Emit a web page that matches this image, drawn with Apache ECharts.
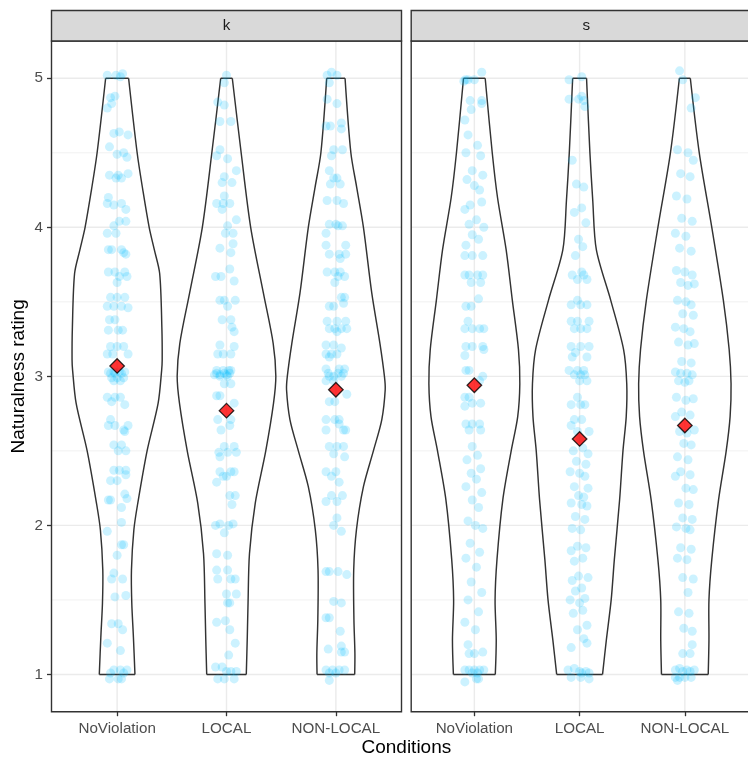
<!DOCTYPE html>
<html><head><meta charset="utf-8">
<script src="https://cdn.jsdelivr.net/npm/echarts@6/dist/echarts.min.js"></script>
<style>html,body{margin:0;padding:0;background:#fff}#c{width:748px;height:758px}</style>
</head><body><div id="c"></div>
<script>
const categories = ['NoViolation', 'LOCAL', 'NON-LOCAL'];
const facets = ['k', 's'];
const yTicks = [1, 2, 3, 4, 5];
const yMinor = [1.5, 2.5, 3.5, 4.5];
const meansK = [3.07, 2.77, 2.91];
const meansS = [2.94, 2.58, 2.67];

// violin outlines: [rating, half-width in category units]
const violinK_NoViolation = [[1.0,0.163],[1.25,0.149],[1.48,0.134],[1.7,0.131],[1.97,0.153],[2.15,0.189],[2.5,0.274],[2.82,0.375],[3.04,0.407],[3.11,0.412],[3.33,0.409],[3.69,0.389],[3.85,0.34],[4.0,0.293],[4.25,0.235],[4.5,0.183],[5.0,0.105]];
const violinK_LOCAL = [[1.0,0.181],[1.25,0.19],[1.48,0.197],[1.81,0.21],[2.15,0.263],[2.5,0.359],[2.82,0.43],[3.0,0.451],[3.22,0.427],[3.56,0.337],[4.0,0.221],[4.5,0.134],[5.0,0.053]];
const violinK_NONLOCAL = [[1.0,0.172],[1.14,0.174],[1.37,0.165],[1.7,0.163],[1.97,0.188],[2.26,0.252],[2.5,0.343],[2.71,0.42],[2.91,0.451],[3.0,0.444],[3.22,0.403],[3.56,0.328],[4.0,0.252],[4.27,0.19],[4.5,0.137],[5.0,0.084]];
const violinS_NoViolation = [[1.0,0.199],[1.23,0.208],[1.5,0.197],[1.77,0.215],[2.17,0.27],[2.5,0.35],[2.73,0.412],[2.95,0.432],[3.18,0.419],[3.51,0.361],[3.85,0.302],[4.2,0.22],[4.5,0.17],[5.0,0.103]];
const violinS_LOCAL = [[1.0,0.218],[1.23,0.254],[1.5,0.30],[1.77,0.33],[2.17,0.38],[2.5,0.412],[2.73,0.443],[2.95,0.448],[3.18,0.418],[3.51,0.296],[3.85,0.159],[4.18,0.125],[4.5,0.098],[5.0,0.066]];
const violinS_NONLOCAL = [[1.0,0.222],[1.23,0.229],[1.5,0.229],[1.77,0.256],[2.17,0.32],[2.5,0.393],[2.73,0.43],[2.95,0.439],[3.18,0.421],[3.51,0.366],[4.0,0.256],[4.5,0.137],[5.0,0.052]];

// jittered points: [horizontal jitter in category units, rating]
const pointsK_NoViolation = [[-0.09,5.02],[-0.01,5.02],[0.03,5.01],[0.05,5.03],[-0.06,4.87],[-0.02,4.88],[-0.05,4.83],[-0.09,4.80],
[-0.03,4.63],[0.02,4.64],[0.10,4.62],[-0.07,4.54],[0.00,4.49],[0.06,4.50],[0.09,4.47],
[-0.07,4.35],[0.01,4.35],[0.10,4.36],[-0.01,4.33],[0.04,4.33],[-0.08,4.20],[-0.09,4.16],[-0.03,4.15],[0.04,4.16],[0.08,4.12],
[0.02,4.04],[0.08,4.04],[-0.03,4.01],[-0.09,3.96],[-0.01,3.96],[-0.08,3.85],[-0.05,3.85],[0.04,3.85],[0.08,3.82],[0.06,3.83],
[-0.08,3.70],[-0.02,3.70],[0.07,3.70],[0.02,3.67],[0.09,3.67],[0.00,3.63],[-0.06,3.53],[0.00,3.53],[0.07,3.53],[-0.09,3.47],[-0.03,3.47],[0.04,3.47],[0.10,3.46],
[-0.07,3.38],[-0.02,3.38],[-0.08,3.31],[0.01,3.31],[0.05,3.31],[-0.06,3.20],[0.00,3.20],[0.06,3.20],[-0.09,3.15],[-0.04,3.15],[0.10,3.15],
[-0.08,3.03],[-0.03,3.03],[0.02,3.03],[0.07,3.03],[-0.05,2.99],[0.00,2.99],[0.06,2.99],[-0.06,3.02],[-0.02,3.02],[0.04,3.02],[-0.03,2.97],[0.03,2.97],
[-0.09,2.86],[-0.02,2.86],[0.03,2.86],[-0.05,2.83],[0.07,2.81],[-0.06,2.71],[-0.08,2.67],[-0.02,2.67],[0.10,2.67],[0.06,2.64],[0.07,2.63],
[-0.03,2.54],[0.04,2.54],[0.01,2.50],[0.08,2.50],[-0.03,2.37],[0.02,2.37],[0.08,2.37],[0.08,2.34],[-0.06,2.30],[0.00,2.30],
[-0.08,2.17],[-0.06,2.17],[0.07,2.21],[0.09,2.18],[0.04,2.12],[0.04,2.02],[-0.09,1.96],[0.04,1.87],[0.06,1.87],[0.00,1.80],
[-0.03,1.68],[-0.05,1.64],[0.05,1.64],[0.08,1.53],[-0.02,1.52],[-0.05,1.34],[0.01,1.34],[0.05,1.30],[-0.09,1.21],[0.03,1.16],
[-0.03,1.03],[0.03,1.03],[0.09,1.03],[-0.06,1.01],[0.06,1.01],[-0.07,0.97],[0.01,0.97],[0.04,0.97]];
const pointsK_LOCAL = [[0.00,5.02],[-0.02,4.97],[-0.08,4.84],[-0.02,4.82],[-0.06,4.71],[0.04,4.71],
[-0.06,4.52],[-0.09,4.48],[0.01,4.46],[0.09,4.38],[-0.02,4.34],[-0.04,4.30],[0.05,4.30],
[-0.02,4.21],[-0.09,4.16],[-0.03,4.16],[0.03,4.16],[-0.04,4.12],[0.09,4.05],[0.01,4.01],[-0.01,3.96],[0.06,3.96],[-0.06,3.86],[0.06,3.89],[0.04,3.83],
[0.03,3.72],[-0.10,3.67],[-0.05,3.67],[0.07,3.64],[-0.06,3.51],[-0.02,3.51],[0.08,3.51],[0.01,3.47],[-0.04,3.38],[0.04,3.38],[0.05,3.33],[0.07,3.30],
[-0.06,3.21],[0.07,3.20],[-0.08,3.15],[-0.03,3.15],[0.04,3.15],[-0.09,3.04],[-0.03,3.04],[0.02,3.04],[0.04,3.04],[-0.11,3.01],[-0.06,3.01],[0.00,3.01],
[-0.09,3.02],[-0.02,3.02],[0.03,3.02],[-0.06,3.00],[0.01,3.00],[-0.02,2.95],[0.04,2.95],[-0.09,2.87],[-0.06,2.87],[0.07,2.82],
[-0.08,2.71],[0.04,2.71],[0.03,2.67],[-0.05,2.64],[-0.02,2.53],[0.07,2.53],[-0.07,2.49],[0.01,2.49],[0.09,2.49],[-0.06,2.46],
[-0.06,2.36],[0.04,2.36],[0.07,2.36],[-0.03,2.33],[0.00,2.33],[-0.09,2.29],[0.03,2.20],[0.08,2.20],[0.05,2.14],
[-0.06,2.01],[0.06,2.01],[-0.10,2.00],[0.02,2.00],[-0.02,1.95],[-0.09,1.81],[0.01,1.80],[-0.09,1.70],[0.01,1.70],[-0.08,1.64],[0.04,1.64],[0.08,1.64],
[0.00,1.54],[0.09,1.54],[0.01,1.48],[0.03,1.48],[-0.01,1.36],[-0.09,1.35],[0.03,1.30],[0.08,1.21],[0.02,1.13],
[-0.10,1.05],[-0.04,1.05],[0.00,1.02],[0.04,1.02],[0.09,1.02],[-0.08,0.97],[-0.02,0.97],[0.07,0.97]];
const pointsK_NONLOCAL = [[-0.04,5.04],[-0.08,5.02],[0.01,5.02],[-0.06,4.97],[-0.08,4.86],[0.01,4.83],
[0.05,4.70],[-0.09,4.68],[-0.05,4.68],[0.05,4.66],[-0.02,4.52],[0.06,4.52],[-0.04,4.48],[-0.06,4.38],[-0.02,4.33],[0.01,4.33],[-0.05,4.29],[0.04,4.29],
[-0.08,4.18],[0.01,4.18],[0.07,4.16],[-0.06,4.02],[0.00,4.02],[0.02,4.01],[0.06,4.01],[-0.09,3.96],
[-0.09,3.88],[0.09,3.88],[-0.06,3.82],[0.03,3.82],[0.09,3.82],[0.04,3.79],[-0.08,3.70],[-0.01,3.70],[0.04,3.70],[0.02,3.67],[0.08,3.67],[-0.01,3.63],
[0.05,3.53],[0.08,3.53],[-0.06,3.47],[-0.02,3.47],[0.07,3.49],[-0.08,3.37],[0.01,3.37],[0.09,3.37],[-0.06,3.32],[-0.01,3.32],[0.05,3.32],[0.10,3.32],[0.01,3.30],
[-0.09,3.21],[-0.02,3.21],[0.05,3.19],[-0.09,3.15],[-0.04,3.15],[0.01,3.15],[-0.06,3.13],[-0.09,3.05],[0.03,3.05],[0.08,3.05],[-0.06,3.00],[-0.02,3.00],[0.05,3.00],
[-0.07,3.02],[0.02,3.02],[0.07,3.02],[-0.09,2.97],[-0.02,2.97],[0.10,2.88],[-0.06,2.83],[-0.01,2.83],
[-0.09,2.71],[-0.01,2.71],[0.03,2.71],[0.03,2.68],[-0.09,2.64],[0.07,2.64],[0.09,2.64],[-0.06,2.53],[0.01,2.53],[0.07,2.53],[-0.02,2.48],[0.08,2.46],
[-0.09,2.36],[0.00,2.36],[-0.04,2.33],[0.03,2.29],[-0.04,2.20],[0.06,2.20],[-0.09,2.16],[0.01,2.16],[0.01,2.05],[-0.02,2.00],[0.05,1.96],
[-0.09,1.69],[-0.06,1.69],[0.02,1.69],[0.10,1.67],[-0.02,1.49],[0.05,1.48],[-0.09,1.38],[-0.06,1.38],[0.04,1.29],[-0.07,1.17],[0.05,1.19],[0.05,1.15],[0.08,1.15],
[-0.09,1.03],[-0.03,1.03],[0.03,1.03],[0.08,1.03],[-0.06,1.01],[0.00,1.01],[-0.06,0.96]];
const pointsS_NoViolation = [[0.07,5.04],[-0.085,4.99],[-0.06,4.99],[0.00,4.99],[-0.10,4.98],[-0.04,4.85],[0.07,4.85],[0.07,4.83],[-0.03,4.79],[-0.09,4.72],
[-0.06,4.62],[0.03,4.55],[-0.08,4.50],[0.06,4.48],[-0.02,4.38],[0.08,4.35],[-0.07,4.32],[0.00,4.28],[0.05,4.25],[-0.04,4.15],[0.07,4.17],[-0.09,4.12],[0.02,4.05],[-0.05,4.02],[0.09,4.00],[-0.02,3.95],[0.04,3.92],[-0.08,3.88],
[-0.09,3.81],[-0.02,3.81],[0.08,3.81],[-0.09,3.68],[-0.05,3.68],[0.03,3.68],[0.08,3.68],[-0.03,3.63],[0.06,3.63],
[0.04,3.52],[-0.08,3.47],[-0.03,3.47],[-0.06,3.37],[-0.09,3.32],[-0.02,3.32],[0.05,3.32],[0.09,3.32],
[-0.08,3.20],[-0.02,3.20],[0.08,3.20],[0.09,3.18],[-0.09,3.14],[-0.08,3.04],[-0.05,3.04],[0.08,3.00],[0.05,2.97],
[-0.09,2.86],[-0.05,2.86],[-0.02,2.82],[0.06,2.82],[-0.09,2.80],[-0.08,2.68],[-0.02,2.68],[0.05,2.68],[-0.05,2.64],[0.06,2.64],[-0.02,2.53],
[0.03,2.47],[-0.07,2.44],[0.06,2.38],[-0.03,2.35],[0.02,2.31],[-0.08,2.26],[0.07,2.22],[-0.02,2.17],[0.04,2.12],[-0.06,2.03],[0.01,2.00],[0.08,1.98],
[-0.04,1.88],[0.05,1.82],[-0.08,1.78],[0.02,1.72],[-0.03,1.62],[0.07,1.55],[-0.06,1.50],[0.04,1.42],[-0.09,1.35],[0.01,1.30],[-0.06,1.20],[-0.05,1.14],[0.00,1.14],[0.08,1.15],
[-0.09,1.03],[-0.05,1.03],[0.00,1.03],[0.05,1.03],[0.09,1.03],[-0.02,1.01],[0.03,1.01],[0.02,0.97],[0.04,0.97],[-0.09,0.95]];
const pointsS_LOCAL = [[-0.10,4.99],[0.02,5.01],[-0.10,4.86],[-0.01,4.86],[0.04,4.85],[0.02,4.88],[0.05,4.81],[-0.07,4.45],[-0.03,4.29],[0.04,4.27],[0.02,4.13],[-0.05,4.10],[0.06,4.03],[-0.01,3.92],[0.03,3.87],
[-0.04,3.81],[0.02,3.70],[-0.07,3.68],[0.04,3.68],[-0.02,3.65],[0.07,3.65],[-0.02,3.51],[-0.08,3.48],[0.01,3.48],[0.07,3.48],
[-0.08,3.37],[-0.02,3.37],[0.09,3.37],[-0.05,3.32],[0.01,3.32],[0.07,3.32],[-0.08,3.20],[0.01,3.20],[0.09,3.20],[-0.04,3.16],[-0.07,3.13],[0.07,3.13],
[-0.10,3.04],[-0.02,3.04],[0.04,3.04],[-0.05,3.01],[0.01,3.01],[0.05,3.01],[0.00,2.97],[0.07,2.97],
[-0.02,2.86],[-0.08,2.81],[0.01,2.81],[0.05,2.81],[-0.05,2.71],[0.02,2.71],[-0.08,2.67],[-0.02,2.63],[0.09,2.63],[0.01,2.58],
[-0.06,2.50],[0.03,2.52],[0.08,2.48],[-0.03,2.43],[0.06,2.41],[-0.09,2.36],[0.00,2.35],[0.05,2.33],[-0.05,2.26],[0.08,2.25],[-0.01,2.20],[0.04,2.19],[-0.08,2.15],[0.02,2.14],[0.07,2.13],
[-0.04,2.06],[0.05,2.04],[-0.07,1.98],[0.01,1.97],[-0.02,1.86],[0.06,1.85],[-0.08,1.83],[0.03,1.78],[-0.05,1.76],[-0.01,1.66],[0.08,1.65],[-0.07,1.63],[0.02,1.58],[-0.04,1.56],
[0.05,1.51],[-0.09,1.50],[0.00,1.48],[0.03,1.43],[-0.06,1.41],[0.07,1.33],[-0.02,1.30],[0.04,1.24],[-0.08,1.18],[0.07,1.21],
[-0.11,1.03],[-0.05,1.04],[0.00,1.02],[0.02,1.01],[0.06,1.02],[0.09,1.01],[-0.08,0.98],[0.01,0.98],[0.09,0.97]];
const pointsS_NONLOCAL = [[-0.05,5.05],[-0.02,4.99],[0.10,4.87],[0.06,4.80],[-0.07,4.52],[0.03,4.50],[0.08,4.45],[-0.04,4.36],[0.05,4.34],[-0.08,4.21],[0.02,4.19],[-0.03,4.06],[0.07,4.04],[-0.09,3.96],[0.01,3.94],[-0.05,3.86],[0.06,3.84],
[-0.08,3.71],[0.00,3.70],[0.07,3.68],[-0.04,3.63],[0.03,3.61],[0.09,3.62],[-0.07,3.51],[0.01,3.50],[0.06,3.48],[-0.02,3.42],[0.08,3.41],[-0.09,3.33],[-0.01,3.32],[0.05,3.30],[-0.06,3.23],[0.03,3.21],[0.09,3.22],[-0.03,3.10],[0.06,3.09],
[-0.09,3.03],[-0.04,3.02],[0.02,3.02],[0.07,3.01],[-0.06,2.97],[0.00,2.96],[0.04,2.97],[-0.08,2.86],[0.01,2.84],[0.08,2.85],[-0.03,2.76],[0.05,2.74],[-0.09,2.73],
[-0.05,2.63],[0.02,2.62],[0.09,2.64],[-0.01,2.55],[0.06,2.54],[-0.07,2.46],[0.03,2.44],[-0.04,2.36],[0.05,2.34],[-0.09,2.33],[0.01,2.25],[0.08,2.24],[-0.06,2.15],[0.04,2.14],[-0.02,2.05],[0.07,2.04],[-0.08,1.99],[0.01,1.98],[0.05,1.97],
[-0.04,1.85],[0.06,1.84],[-0.07,1.78],[0.02,1.77],[-0.02,1.65],[0.08,1.64],[0.03,1.55],[-0.06,1.42],[0.04,1.41],[-0.01,1.31],[0.07,1.29],[0.07,1.20],[-0.02,1.14],[0.05,1.14],
[-0.09,1.03],[-0.05,1.04],[-0.02,1.02],[0.02,1.03],[0.05,1.02],[0.09,1.03],[-0.09,0.98],[-0.05,0.98],[0.00,0.98],[0.06,0.98],[-0.07,0.96]];

const violins = [[violinK_NoViolation, violinK_LOCAL, violinK_NONLOCAL], [violinS_NoViolation, violinS_LOCAL, violinS_NONLOCAL]];
const points = [[pointsK_NoViolation, pointsK_LOCAL, pointsK_NONLOCAL], [pointsS_NoViolation, pointsS_LOCAL, pointsS_NONLOCAL]];
const means = [meansK, meansS];

const FONT = 'Liberation Sans, Arial, sans-serif';
const TICK_FS = 15.2, TITLE_FS = 19;
const gridBoxes = [{left: 51.5, top: 41, width: 350, height: 670.7}, {left: 411.2, top: 41, width: 350, height: 670.7}];
const Y_MIN = 0.75, Y_MAX = 5.25, X_MIN = 0.4, X_MAX = 3.6;

const chart = echarts.init(document.getElementById('c'), null, {renderer: 'canvas'});

const grids = gridBoxes.map(g => Object.assign({show: false, containLabel: false}, g));
const xAxes = facets.map((f, p) => ({
  type: 'value', gridIndex: p, min: X_MIN, max: X_MAX,
  axisLine: {show: false}, splitLine: {show: false},
  axisTick: {show: true, customValues: [1, 2, 3], length: 4.5, lineStyle: {color: '#333', width: 1.3}},
  axisLabel: {show: true, customValues: [1, 2, 3], margin: 10, fontSize: TICK_FS, color: '#4d4d4d', fontFamily: FONT,
    formatter: v => categories[Math.round(v) - 1] || ''}
}));
const yAxes = facets.map((f, p) => ({
  type: 'value', gridIndex: p, min: Y_MIN, max: Y_MAX,
  axisLine: {show: false}, splitLine: {show: false},
  axisTick: {show: p === 0, customValues: yTicks, length: 4.5, lineStyle: {color: '#333', width: 1.3}},
  axisLabel: {show: p === 0, customValues: yTicks, margin: 8.5, fontSize: TICK_FS, color: '#4d4d4d', fontFamily: FONT}
}));

const series = [];
facets.forEach((f, p) => {
  // grid lines
  const gl = [];
  yTicks.forEach(v => gl.push(['y', v, 1]));
  yMinor.forEach(v => gl.push(['y', v, 0]));
  [1, 2, 3].forEach(v => gl.push(['x', v, 1]));
  series.push({
    type: 'custom', xAxisIndex: p, yAxisIndex: p, z: 1, silent: true, animation: false,
    data: gl.map((d, i) => [i]),
    renderItem: (params, api) => {
      const d = gl[params.dataIndex];
      let a, b;
      if (d[0] === 'y') { a = api.coord([X_MIN, d[1]]); b = api.coord([X_MAX, d[1]]); }
      else { a = api.coord([d[1], Y_MIN]); b = api.coord([d[1], Y_MAX]); }
      return {type: 'line', shape: {x1: a[0], y1: a[1], x2: b[0], y2: b[1]},
        style: {stroke: '#ebebeb', lineWidth: d[2] ? 1.4 : 0.7}};
    }
  });
  // violins
  series.push({
    type: 'custom', xAxisIndex: p, yAxisIndex: p, z: 2, silent: true, animation: false,
    data: categories.map((c, i) => [i + 1, i]),
    encode: {x: 0, y: 1},
    renderItem: (params, api) => {
      const cx = api.value(0);
      const prof = violins[p][api.value(1)];
      const L = prof.map(([y, h]) => api.coord([cx - h, y]));
      const R = prof.map(([y, h]) => api.coord([cx + h, y]));
      const st = {stroke: '#333333', lineWidth: 1.45, fill: null};
      const n = prof.length - 1;
      return {type: 'group', children: [
        {type: 'polyline', shape: {points: L, smooth: 0.3}, style: st},
        {type: 'polyline', shape: {points: R, smooth: 0.3}, style: st},
        {type: 'line', shape: {x1: L[0][0], y1: L[0][1], x2: R[0][0], y2: R[0][1]}, style: st},
        {type: 'line', shape: {x1: L[n][0], y1: L[n][1], x2: R[n][0], y2: R[n][1]}, style: st}
      ]};
    }
  });
  // jittered points
  const pts = [];
  points[p].forEach((arr, i) => arr.forEach(([dx, y]) => pts.push([i + 1 + dx, y])));
  series.push({
    type: 'scatter', xAxisIndex: p, yAxisIndex: p, z: 3, silent: true, animation: false,
    symbol: 'circle', symbolSize: 9, data: pts,
    itemStyle: {color: 'rgba(0,191,255,0.25)', borderWidth: 0}
  });
  // means
  series.push({
    type: 'scatter', xAxisIndex: p, yAxisIndex: p, z: 4, silent: true, animation: false,
    symbol: 'diamond', symbolSize: 14.5,
    data: means[p].map((m, i) => [i + 1, m]),
    itemStyle: {color: '#ff0000', borderColor: '#000', borderWidth: 1.3}
  });
});

const graphics = [];
gridBoxes.forEach((g, p) => {
  graphics.push({type: 'rect', z: 100, silent: true,
    shape: {x: g.left, y: g.top, width: g.width, height: g.height},
    style: {fill: null, stroke: '#333333', lineWidth: 1.4}});
  graphics.push({type: 'rect', z: 100, silent: true,
    shape: {x: g.left, y: 10.5, width: g.width, height: g.top - 10.5},
    style: {fill: '#d9d9d9', stroke: '#333333', lineWidth: 1.4}});
  graphics.push({type: 'text', z: 101, silent: true,
    x: g.left + g.width / 2, y: (10.5 + g.top) / 2,
    style: {text: facets[p], fill: '#1a1a1a', font: TICK_FS + 'px ' + FONT, textAlign: 'center', textVerticalAlign: 'middle'}});
});
graphics.push({type: 'text', z: 101, silent: true, x: (gridBoxes[0].left + gridBoxes[1].left + gridBoxes[1].width) / 2, y: 747.5,
  style: {text: 'Conditions', fill: '#000', font: TITLE_FS + 'px ' + FONT, textAlign: 'center', textVerticalAlign: 'middle'}});
graphics.push({type: 'text', z: 101, silent: true, x: 19, y: gridBoxes[0].top + gridBoxes[0].height / 2, rotation: Math.PI / 2,
  style: {text: 'Naturalness rating', fill: '#000', font: TITLE_FS + 'px ' + FONT, textAlign: 'center', textVerticalAlign: 'middle'}});

chart.setOption({
  backgroundColor: '#ffffff',
  animation: false,
  textStyle: {fontFamily: FONT},
  grid: grids, xAxis: xAxes, yAxis: yAxes,
  series: series,
  graphic: graphics
});
</script></body></html>
